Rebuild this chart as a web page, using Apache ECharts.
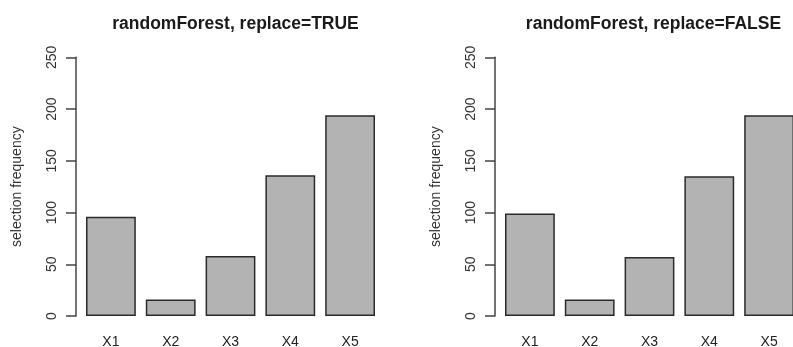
<!DOCTYPE html>
<html><head><meta charset="utf-8">
<script src="https://cdn.jsdelivr.net/npm/echarts@6/dist/echarts.min.js"></script>
<style>html,body{margin:0;padding:0;background:#fff}#c{width:793px;height:347px}</style>
</head><body><div id="c"></div>
<script>
const categories = ['X1','X2','X3','X4','X5'];
const replaceTrue = [96, 16, 58, 136, 194];
const replaceFalse = [99, 16, 57, 135, 194];
const titles = ['randomForest, replace=TRUE', 'randomForest, replace=FALSE'];
const yTicks = {min: 0, max: 250, interval: 50};
const yName = 'selection frequency';

const font = 'Liberation Sans, Arial, Helvetica, sans-serif';
const grids = [
  {left: 81, top: 57.3, width: 299, height: 258.7, outerBoundsMode: 'none', containLabel: false},
  {left: 500, top: 57.3, width: 299, height: 258.7, outerBoundsMode: 'none', containLabel: false}
];
const chart = echarts.init(document.getElementById('c'));
function yAx(i){
  return {type:'value', gridIndex:i, min:yTicks.min, max:yTicks.max, interval:yTicks.interval, offset:5,
    name:yName, nameLocation:'middle', nameGap:52, nameRotate:90,
    nameTextStyle:{fontFamily:font, fontSize:14, color:'#333'},
    axisLine:{show:true, lineStyle:{color:'#444', width:1.5}},
    axisTick:{show:true, length:10, lineStyle:{color:'#444', width:1.5}},
    axisLabel:{rotate:90, margin:17, fontFamily:font, fontSize:14, color:'#333'},
    splitLine:{show:false}};
}
function xAx(i){
  return {type:'category', gridIndex:i, data:categories, axisLine:{show:false}, axisTick:{show:false},
    axisLabel:{margin:19.5, fontFamily:font, fontSize:14, color:'#222'}};
}
function ser(i, d){
  return {type:'bar', xAxisIndex:i, yAxisIndex:i, data:d, barCategoryGap:'16.7%',
    itemStyle:{color:'#b3b3b3', borderColor:'#2a2a2a', borderWidth:1.5}, silent:true};
}
chart.setOption({
  animation:false,
  title: titles.map((t,i)=>({text:t, left: grids[i].left + grids[i].width/2 - (i?1:0), top:10, textAlign:'center',
    textStyle:{fontFamily:font, fontSize:17.5, fontWeight:'bold', color:'#1a1a1a'}})),
  grid: grids,
  xAxis: [xAx(0), xAx(1)],
  yAxis: [yAx(0), yAx(1)],
  series: [ser(0, replaceTrue), ser(1, replaceFalse)]
});
</script></body></html>
